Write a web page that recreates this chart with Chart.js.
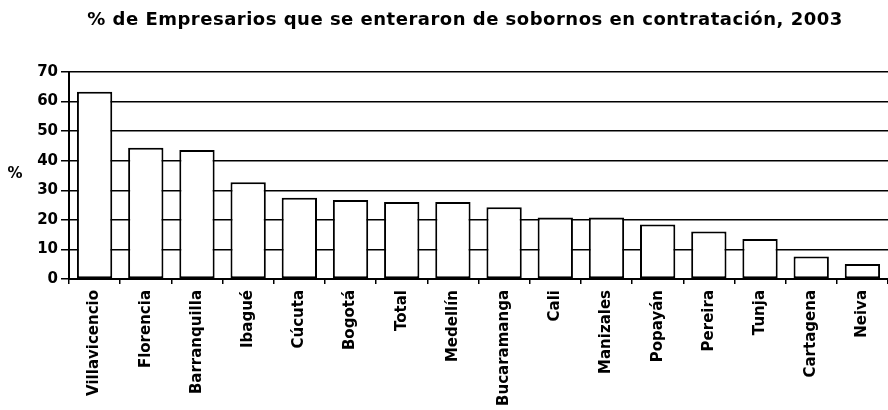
<!DOCTYPE html>
<html>
<head>
<meta charset="utf-8">
<script src="https://cdn.jsdelivr.net/npm/chart.js@4/dist/chart.umd.min.js"></script>
<style>
html,body{margin:0;padding:0;background:#fff;}
#wrap{width:888px;height:410px;position:relative;}
</style>
</head>
<body>
<div id="wrap"><canvas id="c" width="888" height="410"></canvas></div>
<script>
const categories = ["Villavicencio","Florencia","Barranquilla","Ibagué","Cúcuta","Bogotá","Total","Medellín","Bucaramanga","Cali","Manizales","Popayán","Pereira","Tunja","Cartagena","Neiva"];
const values = [63.3, 44.4, 43.6, 32.7, 27.5, 26.7, 26.0, 26.0, 24.3, 20.8, 20.8, 18.4, 16.1, 13.5, 7.6, 5.1];
const yTicks = [0,10,20,30,40,50,60,70];
const titleText = "% de Empresarios que se enteraron de sobornos en contratación, 2003";
const yTitle = "%";

const FONT = "'DejaVu Sans', Arial, sans-serif";

const textPlugin = {
  id: 'texts',
  afterDraw(chart) {
    const ctx = chart.ctx;
    ctx.save();
    ctx.fillStyle = '#000';
    ctx.textAlign = 'center';
    ctx.textBaseline = 'middle';
    ctx.font = "bold 18px " + FONT;
    try { ctx.letterSpacing = '0.5px'; } catch (e) {}
    ctx.fillText(titleText, 465, 20);
    try { ctx.letterSpacing = '0px'; } catch (e) {}
    ctx.font = "bold 15px " + FONT;
    ctx.fillText(yTitle, 15, 174);
    ctx.restore();
  }
};

new Chart(document.getElementById('c'), {
  type: 'bar',
  data: {
    labels: categories,
    datasets: [{
      data: values,
      backgroundColor: '#ffffff',
      borderColor: '#000000',
      borderWidth: 2,
      borderSkipped: false,
      barPercentage: 0.69,
      categoryPercentage: 1.0
    }]
  },
  options: {
    responsive: false,
    animation: false,
    layout: { padding: { left: 0, right: 0, top: 72, bottom: 0 } },
    plugins: {
      legend: { display: false },
      tooltip: { enabled: false },
      title: { display: false }
    },
    scales: {
      x: {
        offset: true,
        grid: { display: true, drawOnChartArea: false, color: '#000', lineWidth: 1.5, tickLength: 5, offset: true },
        border: { display: true, color: '#000', width: 2 },
        ticks: {
          color: '#000',
          font: { family: FONT, size: 15, weight: 'bold' },
          minRotation: 90, maxRotation: 90,
          autoSkip: false,
          padding: 6
        },
        afterFit(scale) { scale.height = 131; }
      },
      y: {
        min: 0, max: 70,
        afterBuildTicks(scale) { scale.ticks = yTicks.map(v => ({ value: v })); },
        grid: { color: '#000', lineWidth: 1.5, tickLength: 8 },
        border: { display: true, color: '#000', width: 2 },
        ticks: {
          color: '#000',
          font: { family: FONT, size: 15, weight: 'bold' },
          padding: 3,
          callback: v => String(v)
        },
        afterFit(scale) { scale.width = 69; }
      }
    }
  },
  plugins: [textPlugin]
});
</script>
</body>
</html>
